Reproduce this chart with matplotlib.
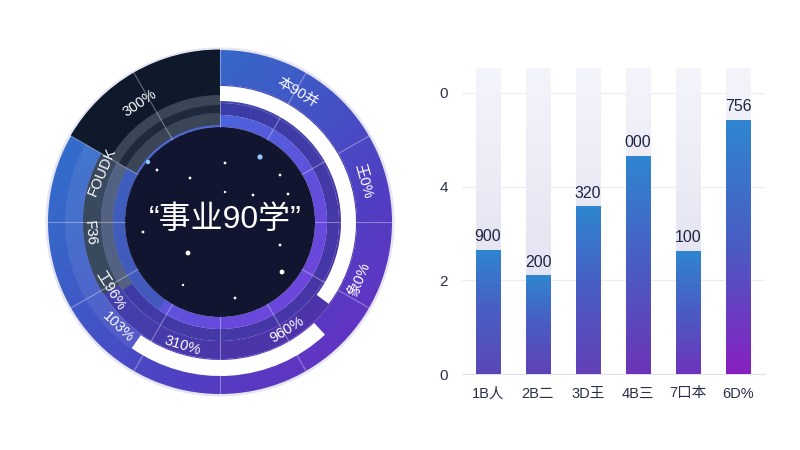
import numpy as np
import matplotlib
matplotlib.use("Agg")
import matplotlib.pyplot as plt
from matplotlib.patches import Wedge, Circle
from matplotlib.colors import LinearSegmentedColormap

plt.rcParams['font.family'] = ['Liberation Sans', 'Noto Sans CJK SC', 'DejaVu Sans']

# ---------------- data ----------------
title_text = "“事业90学”"
ring_labels = ["300%", "本90并", "王0%", "象0%", "960%", "310%", "103%", "工96%", "F36", "FOUDK"]
bar_categories = ["1B人", "2B二", "3D王", "4B三", "7口本", "6D%"]
bar_values = [2.65, 2.11, 3.58, 4.65, 2.63, 5.42]
bar_value_labels = ["900", "200", "320", "000", "100", "756"]
y_ticks = [0, 2, 4, 6]
y_tick_labels = ["0", "2", "4", "0"]
star_x = [40, -72, -63, 5, -30, 60, 33, 68, 5, -77, -32, 60, 62, -37, 15]
star_y = [65, 60, 52, 59, 44, 47, 27, 28, 30, -10, -31, -23, -50, -63, -76]
star_s = [14, 10, 4, 4, 4, 4, 4, 4, 3, 4, 12, 4, 12, 3, 4]

# ---------------- layout / style ----------------
ring_label_angles = [124, 59, 16, -22.5, -58, -107, -134, -148, -175, 157]
ring_label_radii = [143, 151, 149, 151, 127, 129, 146, 129, 131, 128]

fig = plt.figure(figsize=(8, 4.5), dpi=100)
fig.patch.set_facecolor("white")

R = 185
cx, cy = 220, 450 - 222
ax = fig.add_axes([(cx - R) / 800, (cy - R) / 450, 2 * R / 800, 2 * R / 450])
ax.set_xlim(-R, R)
ax.set_ylim(-R, R)
ax.set_aspect('equal')
ax.axis('off')

def grad_img(cols, n=256):
    xs = np.linspace(-R, R, n)
    X, Y = np.meshgrid(xs, xs[::-1])
    t = np.clip((X - Y + 2 * R) / (4 * R), 0, 1)
    cmap = LinearSegmentedColormap.from_list("g", cols)
    return cmap(t)

def grad_wedge(r_out, width, t1, t2, cols, z=1):
    w = Wedge((0, 0), r_out, t1, t2, width=width, facecolor='none', edgecolor='none')
    ax.add_patch(w)
    im = ax.imshow(grad_img(cols), extent=[-R, R, -R, R], zorder=z, interpolation='bilinear')
    im.set_clip_path(w)

def solid_wedge(r_out, width, t1, t2, color, z=2, alpha=1.0):
    ax.add_patch(Wedge((0, 0), r_out, t1, t2, width=width, facecolor=color,
                       edgecolor='none', zorder=z, alpha=alpha))

# soft halo
ax.add_patch(Circle((0, 0), 174.5, facecolor='#e4e4f2', edgecolor='none', zorder=0))

# outer ring
grad_wedge(172, 35, 0, 360, ['#2a7ad0', '#3a62c8', '#5040c2', '#7228c2'], z=1)
# band under white arc
grad_wedge(137, 18, 0, 360, ['#2f6fc0', '#3f48b0', '#4a36a8', '#5a2ab0'], z=1)
# middle ring
grad_wedge(119, 12, 0, 360, ['#2d4ea8', '#3a3ea6', '#4638a8', '#4a30a8'], z=1)
# inner bright ring
grad_wedge(107, 12, 0, 360, ['#3a90e6', '#4a66dc', '#6a48dc', '#8438e6'], z=1)

# left side: lighter inner part of outer ring and muted grey rings
solid_wedge(155, 18, 150, 235, 'white', z=2, alpha=0.08)
solid_wedge(137, 18, 150, 212, '#3a4a5e', z=2)
solid_wedge(119, 12, 150, 215, '#56667e', z=2, alpha=0.9)
solid_wedge(107, 12, 150, 235, '#3a5ab0', z=2, alpha=0.7)

# dark top-left sector
solid_wedge(172.5, 55, 90, 150, '#0e1a2c', z=3)
solid_wedge(127, 10, 90, 150, '#3a4656', z=3)
solid_wedge(117, 8, 90, 150, '#1e2a3a', z=3)
solid_wedge(109, 12, 90, 150, '#3a4656', z=3)

# white progress arcs (spiralling outward)
solid_wedge(136, 15, -37, 90, 'white', z=4)
solid_wedge(154, 16, -125, -47, 'white', z=4)

# center dark disk
ax.add_patch(Circle((0, 0), 95, facecolor='#111530', edgecolor='none', zorder=5))

# divider lines
for a in range(0, 360, 30):
    th = np.deg2rad(a)
    ax.plot([95 * np.cos(th), 172 * np.cos(th)], [95 * np.sin(th), 172 * np.sin(th)],
            color='white', alpha=0.35, lw=0.8, zorder=6)

# stars
star_cols = ['#8ec9ff' if i < 2 else 'white' for i in range(len(star_s))]
ax.scatter(star_x, star_y, s=star_s, c=star_cols, zorder=7, edgecolors='none')

# title
ax.text(5, 2, title_text, color='white', fontsize=23, ha='center', va='center', zorder=8,
        family=['Liberation Sans', 'Noto Sans CJK SC'])

# ring labels (tangential)
for lab, ang, rr in zip(ring_labels, ring_label_angles, ring_label_radii):
    th = np.deg2rad(ang)
    rot = ang - 90 if 0 < ang <= 180 else ang + 90
    ax.text(rr * np.cos(th), rr * np.sin(th), lab, color='white', fontsize=10.5,
            ha='center', va='center', rotation=rot, rotation_mode='anchor', zorder=8)

# ---------------- bar chart ----------------
bx0, bx1 = 462, 765
by0, by1 = 450 - 374, 450 - 68
bax = fig.add_axes([bx0 / 800, by0 / 450, (bx1 - bx0) / 800, (by1 - by0) / 450])
ymax = 6.53
xpos = np.arange(len(bar_categories))

bg = bax.bar(xpos, [ymax] * len(xpos), width=0.5, color='none', zorder=1)
bars = bax.bar(xpos, bar_values, width=0.5, color='none', zorder=3)

bg_cmap = LinearSegmentedColormap.from_list("bg", ['#f4f4fb', '#dcdcee'])
grad = np.linspace(0, 1, 256).reshape(-1, 1)
for p in bg:
    x0, w = p.get_x(), p.get_width()
    im = bax.imshow(bg_cmap(grad), extent=[x0, x0 + w, 0, ymax], aspect='auto', zorder=1, origin='upper')
    im.set_clip_path(p)

bottoms = ['#5a48b8', '#6042b8', '#6440b8', '#6c34b8', '#6e34bc', '#8820c0']
for p, bc, lab in zip(bars, bottoms, bar_value_labels):
    x0, w, h = p.get_x(), p.get_width(), p.get_height()
    cm = LinearSegmentedColormap.from_list("b", ['#2f86d0', '#4a5cc4', bc])
    im = bax.imshow(cm(grad), extent=[x0, x0 + w, 0, h], aspect='auto', zorder=3, origin='upper')
    im.set_clip_path(p)
    bax.text(x0 + w / 2, h + 0.12, lab, ha='center', va='bottom', fontsize=11.5, color='#1e2440', zorder=5)

bax.set_xlim(-0.52, 5.54)
bax.set_ylim(0, ymax)
bax.set_yticks(y_ticks)
bax.set_yticklabels(y_tick_labels, fontsize=11, color='#2a2f48')
bax.set_xticks(xpos)
bax.set_xticklabels(bar_categories, fontsize=10.5, color='#2a2f48')
bax.tick_params(length=0, pad=10)
bax.tick_params(axis='x', pad=9)
bax.grid(axis='y', color='#ececf4', lw=0.8, zorder=0)
bax.set_axisbelow(True)
for s in ['top', 'right', 'left']:
    bax.spines[s].set_visible(False)
bax.spines['bottom'].set_color('#e0e0ea')
bax.set_facecolor('none')

fig.savefig("out.png", dpi=100, facecolor='white')
